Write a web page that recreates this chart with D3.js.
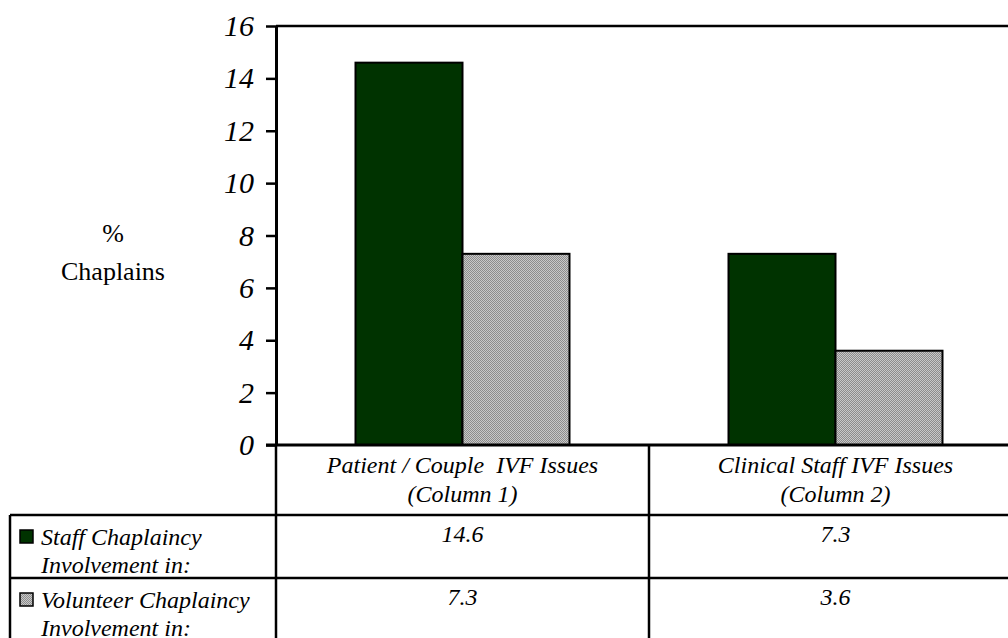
<!DOCTYPE html>
<html>
<head>
<meta charset="utf-8">
<script src="https://cdn.jsdelivr.net/npm/d3@7"></script>
<style>
  html, body { margin: 0; padding: 0; background: #fff; }
  svg { display: block; }
  text { font-family: "Liberation Serif", "Times New Roman", serif; fill: #000; }
</style>
</head>
<body>
<svg id="chart" width="1008" height="638"></svg>
<script>
// Chart data
const categories = ["Column 1", "Column 2"];
const categoryLines = [
  ["Patient / Couple\u00a0 IVF Issues", "(Column 1)"],
  ["Clinical Staff IVF Issues", "(Column 2)"]
];
const seriesKeys = ["staff", "volunteer"];
const seriesLabels = [
  ["Staff Chaplaincy", "Involvement in:"],
  ["Volunteer Chaplaincy", "Involvement in:"]
];
const staffValues = [14.6, 7.3];
const volunteerValues = [7.3, 3.6];
const yTicks = [0, 2, 4, 6, 8, 10, 12, 14, 16];
const axisTitle = ["%", "Chaplains"];

const seriesValues = [staffValues, volunteerValues];
const green = "#003300";
const serif = "Liberation Serif";
const tableFont = 24;

const svg = d3.select("#chart");

// Layout
const plotLeft = 276, plotRight = 1022, plotTop = 26, plotBottom = 445;
const tableLeft = 10;
const rowBounds = [445, 515, 578, 641];

const y = d3.scaleLinear().domain([0, 16]).range([plotBottom, plotTop]);
const x0 = d3.scaleBand().domain(categories).range([plotLeft, plotRight]).paddingInner(0).paddingOuter(0);
const x1 = d3.scaleBand().domain(seriesKeys).range([0, x0.bandwidth()]).paddingInner(0).paddingOuter(0.743);

// Dithered grey fill
const defs = svg.append("defs");
const pat = defs.append("pattern")
  .attr("id", "dither").attr("patternUnits", "userSpaceOnUse")
  .attr("width", 2).attr("height", 2);
pat.append("rect").attr("width", 2).attr("height", 2).attr("fill", "#c8c8c8");
pat.append("rect").attr("width", 1).attr("height", 1).attr("fill", "#8c8c8c");
pat.append("rect").attr("x", 1).attr("y", 1).attr("width", 1).attr("height", 1).attr("fill", "#8c8c8c");
const fills = [green, "url(#dither)"];

// Bars
const groups = svg.append("g").selectAll("g")
  .data(categories)
  .join("g")
  .attr("transform", d => `translate(${x0(d)},0)`);

groups.selectAll("rect")
  .data((d, i) => seriesKeys.map((k, s) => ({ key: k, s, value: seriesValues[s][i] })))
  .join("rect")
  .attr("x", d => x1(d.key))
  .attr("y", d => y(d.value))
  .attr("width", x1.bandwidth())
  .attr("height", d => y(0) - y(d.value))
  .attr("fill", d => fills[d.s])
  .attr("stroke", "#000")
  .attr("stroke-width", 2);

// Top frame line
svg.append("line")
  .attr("x1", plotLeft).attr("x2", plotRight)
  .attr("y1", plotTop).attr("y2", plotTop)
  .attr("stroke", "#000").attr("stroke-width", 2.5);

// Y axis
const yAxis = svg.append("g")
  .attr("transform", `translate(${plotLeft},0)`)
  .call(d3.axisLeft(y).tickValues(yTicks).tickSize(10).tickSizeOuter(0).tickPadding(12).tickFormat(d3.format("d")));
yAxis.attr("font-family", serif);
yAxis.select(".domain").attr("stroke-width", 3);
yAxis.selectAll(".tick line").attr("stroke-width", 2.5);
yAxis.selectAll(".tick text")
  .attr("font-size", 30).attr("font-style", "italic")
  .attr("fill", "#000");

// Axis title
svg.append("text")
  .attr("x", 113).attr("y", 242)
  .attr("text-anchor", "middle").attr("font-size", 26)
  .selectAll("tspan").data(axisTitle).join("tspan")
  .attr("x", 113).attr("dy", (d, i) => i === 0 ? 0 : 38)
  .text(d => d);

// Table grid
const grid = svg.append("g").attr("stroke", "#000").attr("stroke-width", 2.5);
// Horizontal rules
grid.append("line").attr("x1", plotLeft - 10).attr("x2", plotRight).attr("y1", rowBounds[0]).attr("y2", rowBounds[0]).attr("stroke-width", 3);
rowBounds.slice(1).forEach(yy => {
  grid.append("line").attr("x1", tableLeft).attr("x2", plotRight).attr("y1", yy).attr("y2", yy);
});
// Vertical rules
grid.append("line").attr("x1", tableLeft).attr("x2", tableLeft).attr("y1", rowBounds[1]).attr("y2", rowBounds[3]);
grid.append("line").attr("x1", plotLeft).attr("x2", plotLeft).attr("y1", rowBounds[0]).attr("y2", rowBounds[3]);
categories.forEach(c => {
  const xx = x0(c) + x0.bandwidth();
  grid.append("line").attr("x1", xx).attr("x2", xx).attr("y1", rowBounds[0]).attr("y2", rowBounds[3]);
});

// Category labels
const catText = svg.append("g")
  .attr("font-style", "italic").attr("font-size", tableFont).attr("text-anchor", "middle");
categories.forEach((c, i) => {
  const cx = x0(c) + x0.bandwidth() / 2;
  categoryLines[i].forEach((ln, j) => {
    catText.append("text").attr("x", cx).attr("y", 473 + j * 29).text(ln);
  });
});

// Series rows: swatch, label, values
seriesKeys.forEach((k, s) => {
  const top = rowBounds[s + 1];
  svg.append("rect")
    .attr("x", 20).attr("y", top + 15)
    .attr("width", 13).attr("height", 13)
    .attr("fill", fills[s]).attr("stroke", "#000").attr("stroke-width", 1.5);
  const lbl = svg.append("g").attr("font-style", "italic").attr("font-size", tableFont);
  seriesLabels[s].forEach((ln, j) => {
    lbl.append("text").attr("x", 41).attr("y", top + 30 + j * 28).text(ln);
  });
  categories.forEach((c, i) => {
    svg.append("text")
      .attr("x", x0(c) + x0.bandwidth() / 2).attr("y", top + 27)
      .attr("text-anchor", "middle").attr("font-style", "italic").attr("font-size", tableFont)
      .text(seriesValues[s][i]);
  });
});
</script>
</body>
</html>
